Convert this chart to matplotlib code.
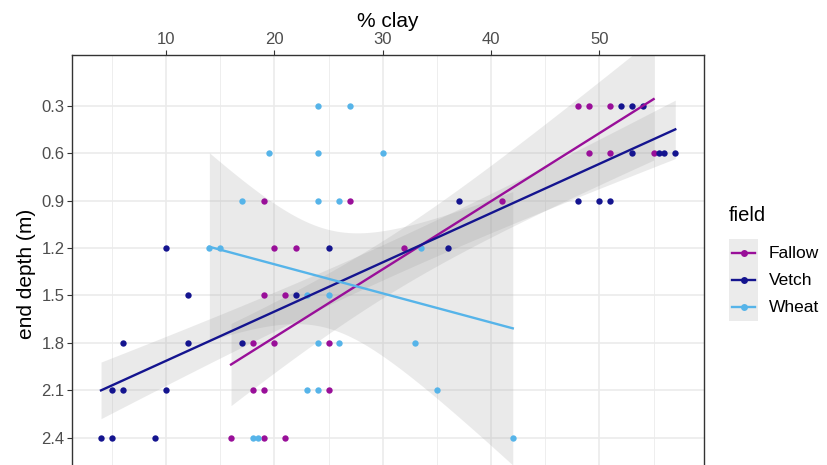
import numpy as np
import matplotlib
matplotlib.use("Agg")
import matplotlib.pyplot as plt
from matplotlib.patches import Rectangle
from matplotlib.lines import Line2D

plt.rcParams['font.family'] = ['Liberation Sans', 'DejaVu Sans']

# data: % clay vs end depth (m), per field
fallow_clay = [48, 49, 51, 49, 51, 55, 19, 27, 41, 20, 22, 32, 19, 21,
               18, 20, 25, 18, 19, 25, 16, 19, 21]
fallow_depth = [0.3, 0.3, 0.3, 0.6, 0.6, 0.6, 0.9, 0.9, 0.9, 1.2, 1.2, 1.2, 1.5, 1.5,
                1.8, 1.8, 1.8, 2.1, 2.1, 2.1, 2.4, 2.4, 2.4]

vetch_clay = [52, 53, 54, 53, 55.5, 56, 57, 37, 48, 50, 51, 10, 25, 36, 12, 22,
              6, 12, 17, 5, 6, 10, 4, 5, 9]
vetch_depth = [0.3, 0.3, 0.3, 0.6, 0.6, 0.6, 0.6, 0.9, 0.9, 0.9, 0.9, 1.2, 1.2, 1.2, 1.5, 1.5,
               1.8, 1.8, 1.8, 2.1, 2.1, 2.1, 2.4, 2.4, 2.4]

wheat_clay = [24, 27, 19.5, 24, 30, 17, 24, 26, 14, 15, 33.5, 23, 25,
              24, 26, 33, 23, 24, 35, 18, 18.5, 42]
wheat_depth = [0.3, 0.3, 0.6, 0.6, 0.6, 0.9, 0.9, 0.9, 1.2, 1.2, 1.2, 1.5, 1.5,
               1.8, 1.8, 1.8, 2.1, 2.1, 2.1, 2.4, 2.4, 2.4]

fields = ["Fallow", "Vetch", "Wheat"]
colors = {"Fallow": "#990F99", "Vetch": "#14148F", "Wheat": "#56B4E9"}
data = {"Fallow": (fallow_clay, fallow_depth),
        "Vetch": (vetch_clay, vetch_depth),
        "Wheat": (wheat_clay, wheat_depth)}

y_ticks = [0.3, 0.6, 0.9, 1.2, 1.5, 1.8, 2.1, 2.4]
x_ticks = [10, 20, 30, 40, 50]

# t quantile (0.975) for the confidence band, small lookup by df
T975 = {20: 2.086, 21: 2.080, 22: 2.074, 23: 2.069, 24: 2.064}


def lm_band(x, y, n=80):
    x = np.asarray(x, float)
    y = np.asarray(y, float)
    b, a = np.polyfit(x, y, 1)
    xs = np.linspace(x.min(), x.max(), n)
    fit = a + b * xs
    resid = y - (a + b * x)
    dof = len(x) - 2
    s = np.sqrt(np.sum(resid ** 2) / dof)
    sxx = np.sum((x - x.mean()) ** 2)
    se = s * np.sqrt(1 / len(x) + (xs - x.mean()) ** 2 / sxx)
    t = T975.get(dof, 2.07)
    return xs, fit, fit - t * se, fit + t * se


fig = plt.figure(figsize=(8.28, 4.65), dpi=100)
W, H = 828, 465
# panel runs off the bottom of the image, as in the reference
top_px, left_px, right_px = 55, 72.3, 704
ymin_v, ymax_v = -0.021, 2.75
px_per_unit = 158.1
bottom_px = top_px + (ymax_v - ymin_v) * px_per_unit
ax = fig.add_axes([left_px / W, 1 - bottom_px / H,
                   (right_px - left_px) / W, (bottom_px - top_px) / H])

ax.set_xlim(1.35, 59.65)
ax.set_ylim(ymax_v, ymin_v)

for xv in [5, 15, 25, 35, 45, 55]:
    ax.axvline(xv, color="#EBEBEB", lw=0.6, zorder=0)
for xv in x_ticks:
    ax.axvline(xv, color="#EBEBEB", lw=1.2, zorder=0)
for yv in y_ticks:
    ax.axhline(yv, color="#EBEBEB", lw=1.2, zorder=0)

bands = {f: lm_band(*data[f]) for f in fields}
for f in fields:
    xs, fit, lo, hi = bands[f]
    ax.fill_between(xs, lo, hi, color="#999999", alpha=0.2, lw=0, zorder=1)
for f in fields:
    cx, cy = data[f]
    ax.scatter(cx, cy, s=21, color=colors[f], zorder=2, linewidths=0)
for f in fields:
    xs, fit, lo, hi = bands[f]
    ax.plot(xs, fit, color=colors[f], lw=1.7, zorder=3)

ax.xaxis.tick_top()
ax.xaxis.set_label_position("top")
ax.set_xticks(x_ticks)
ax.set_yticks(y_ticks)
ax.set_yticklabels([f"{v:.1f}" for v in y_ticks])
ax.tick_params(axis="both", colors="#333333", labelcolor="#4D4D4D",
               labelsize=12, length=3.5, width=0.8, pad=2)
ax.set_xlabel("% clay", fontsize=15, labelpad=4)
ax.set_ylabel("end depth (m)", fontsize=15, labelpad=4)
for sp in ax.spines.values():
    sp.set_color("#333333")
    sp.set_linewidth(1.0)

# legend drawn by hand to get the ggplot key look
fig.text(729 / W, 1 - 215 / H, "field", fontsize=14.5, va="center", ha="left")
key_ax = fig.add_axes([729 / W, 1 - 321 / H, 29 / W, 82 / H])
key_ax.set_xlim(0, 1)
key_ax.set_ylim(3, 0)
key_ax.axis("off")
key_ax.add_patch(Rectangle((0, 0), 1, 3, color="#EBEBEB", lw=0))
for i, f in enumerate(fields):
    yk = i + 0.5
    key_ax.add_line(Line2D([0.1, 0.9], [yk, yk], color=colors[f], lw=1.7))
    key_ax.plot([0.5], [yk], "o", ms=5, color=colors[f], mew=0)
    fig.text(769 / W, 1 - (253 + 27 * i) / H, f, fontsize=12.5,
             va="center", ha="left")

fig.savefig("out.png", dpi=100)
